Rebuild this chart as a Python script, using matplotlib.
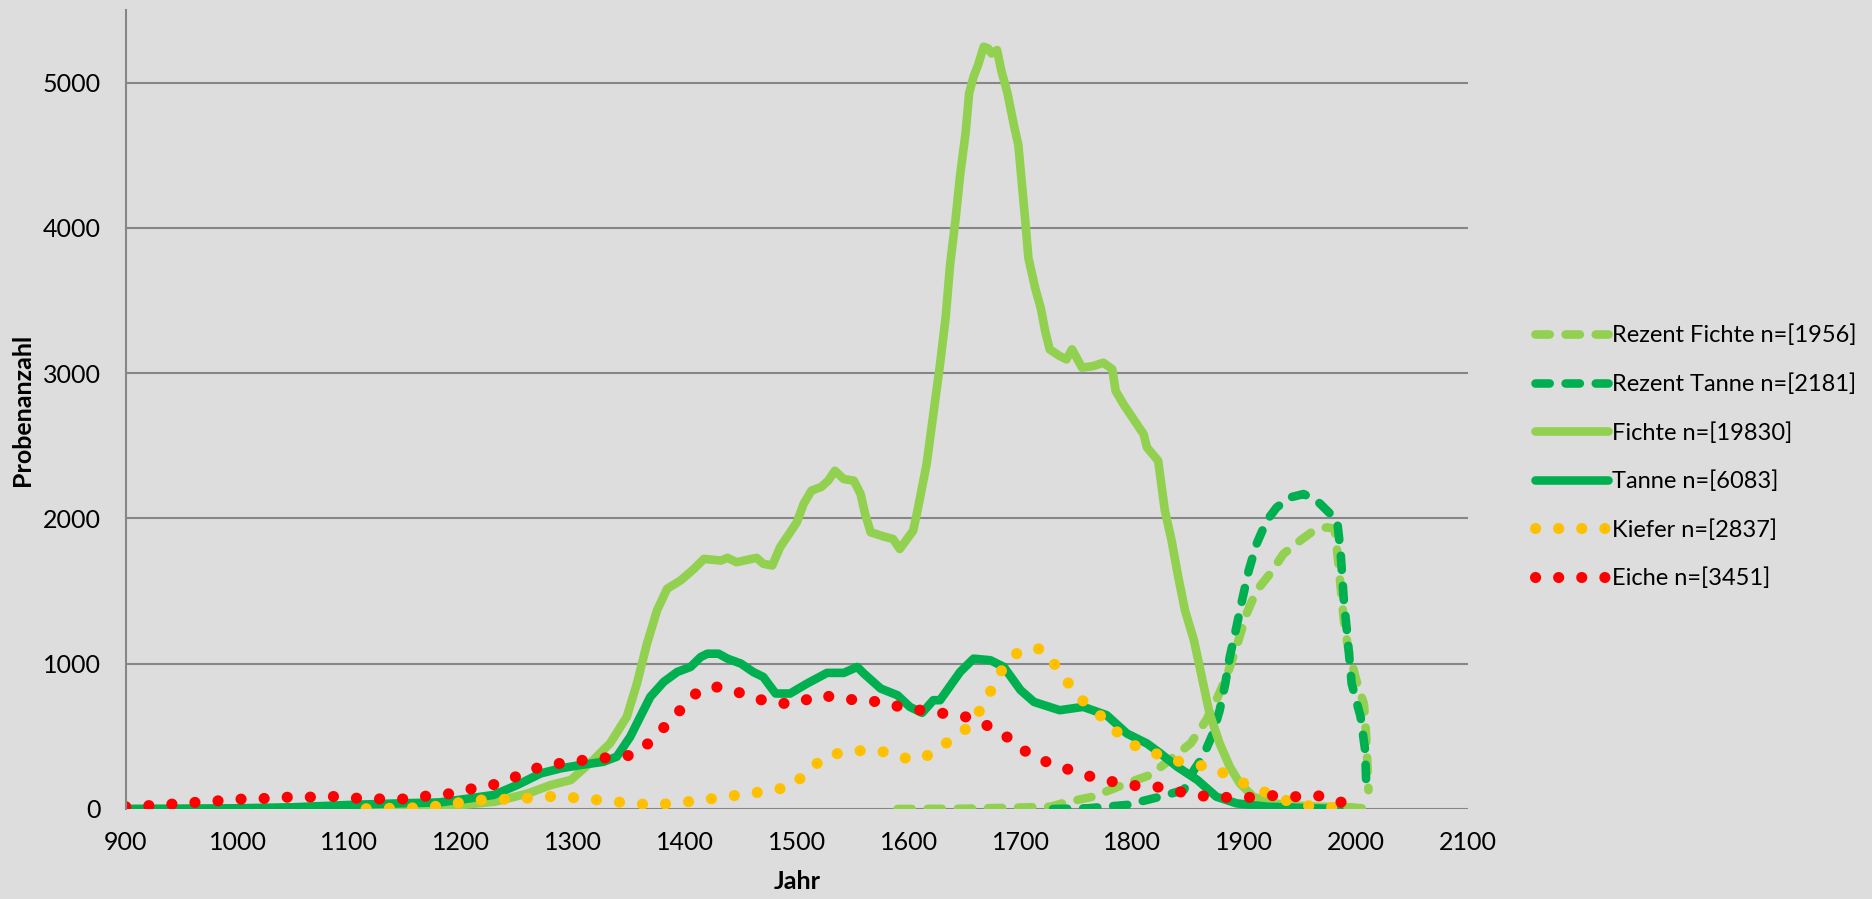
"""Probenanzahl je Jahr für die Holzarten (Fichte, Tanne, Kiefer, Eiche)."""

import matplotlib
matplotlib.use("Agg")
import matplotlib.pyplot as plt

plt.rcParams["font.family"] = ["Lato", "DejaVu Sans"]

# --- data ----------------------------------------------------------------
rezent_fichte_jahr = [1590, 1650, 1700, 1727, 1740, 1765, 1795, 1816, 1837, 1852, 1866,
                      1875, 1884, 1893, 1902, 1911, 1923, 1935, 1950, 1962, 1974, 1981,
                      1984, 1989, 1993, 2000, 2007, 2009, 2011]
rezent_fichte_n = [0, 2, 10, 16, 45, 85, 177, 234, 360, 451, 612,
                   749, 909, 1115, 1344, 1504, 1619, 1756, 1848, 1916, 1939, 1928,
                   1700, 1300, 1100, 890, 720, 500, 130]

rezent_tanne_jahr = [1729, 1760, 1795, 1825, 1846, 1855, 1863, 1872, 1878, 1883, 1887,
                     1893, 1898, 1904, 1911, 1920, 1929, 1941, 1953, 1965, 1974, 1983,
                     1986, 1989, 1992, 1996, 2004, 2008, 2009]
rezent_tanne_n = [0, 5, 28, 85, 131, 268, 360, 520, 680, 863, 1046,
                  1253, 1436, 1642, 1825, 1985, 2076, 2145, 2168, 2122, 2054, 1985,
                  1779, 1436, 1207, 863, 634, 406, 177]

fichte_jahr = [900, 1000, 1100, 1150, 1200, 1230, 1260, 1280, 1298, 1318, 1333, 1348,
               1357, 1366, 1375, 1384, 1396, 1408, 1417, 1432, 1438, 1446, 1464, 1470,
               1478, 1485, 1493, 1500, 1506, 1513, 1522, 1528, 1534, 1542, 1551, 1557,
               1561, 1566, 1578, 1586, 1592, 1604, 1608, 1616, 1622, 1628, 1633, 1637,
               1642, 1646, 1651, 1654, 1658, 1662, 1667, 1671, 1674, 1679, 1683, 1688,
               1694, 1698, 1701, 1704, 1707, 1713, 1718, 1722, 1726, 1735, 1741, 1746,
               1755, 1765, 1774, 1782, 1785, 1792, 1801, 1810, 1813, 1823, 1829, 1835,
               1841, 1847, 1855, 1862, 1869, 1878, 1887, 1896, 1908, 1920, 1935, 1965,
               1995, 2005]
fichte_n = [0, 2, 8, 15, 28, 50, 108, 165, 200, 337, 452, 635,
            863, 1138, 1367, 1516, 1573, 1653, 1722, 1710, 1729, 1699, 1729, 1688,
            1676, 1802, 1893, 1974, 2100, 2191, 2218, 2260, 2328, 2271, 2260, 2168,
            2031, 1905, 1875, 1859, 1790, 1916, 2060, 2374, 2718, 3061, 3382, 3748,
            4068, 4366, 4663, 4927, 5041, 5121, 5247, 5236, 5201, 5224, 5075, 4938,
            4709, 4572, 4320, 4068, 3794, 3588, 3450, 3290, 3164, 3118, 3095, 3164,
            3038, 3049, 3072, 3027, 2878, 2786, 2683, 2580, 2489, 2397, 2054, 1848,
            1596, 1367, 1161, 909, 657, 451, 291, 177, 85, 51, 28, 16,
            12, 5]

tanne_jahr = [900, 950, 1000, 1050, 1100, 1150, 1180, 1200, 1229, 1250, 1271, 1289,
              1306, 1327, 1339, 1351, 1360, 1369, 1381, 1393, 1405, 1414, 1420, 1430,
              1438, 1450, 1461, 1470, 1481, 1494, 1509, 1527, 1542, 1554, 1560, 1575,
              1590, 1601, 1612, 1622, 1628, 1646, 1658, 1673, 1685, 1700, 1712, 1735,
              1756, 1777, 1795, 1813, 1825, 1840, 1858, 1875, 1893, 1920, 1959, 1985]
tanne_n = [0, 2, 5, 12, 28, 40, 45, 65, 97, 165, 245, 280,
           302, 325, 360, 497, 635, 772, 875, 943, 978, 1046, 1069, 1069,
           1035, 1001, 943, 909, 795, 795, 863, 937, 937, 978, 932, 829,
           783, 703, 662, 749, 749, 944, 1035, 1024, 978, 818, 737, 680,
           703, 646, 520, 451, 383, 291, 200, 85, 39, 16, 5, 0]

kiefer_jahr = [1115, 1140, 1160, 1180, 1204, 1225, 1245, 1266, 1287, 1308, 1329, 1350,
               1371, 1392, 1413, 1434, 1455, 1476, 1496, 1511, 1527, 1546, 1565, 1584,
               1602, 1621, 1637, 1653, 1665, 1675, 1685, 1699, 1718, 1732, 1743, 1755,
               1769, 1783, 1797, 1814, 1834, 1853, 1872, 1890, 1908, 1928, 1946, 1967,
               1990]
kiefer_n = [2, 5, 8, 20, 51, 67, 67, 78, 90, 71, 58, 40,
            28, 40, 60, 81, 105, 125, 158, 270, 369, 395, 406, 387,
            337, 378, 474, 561, 694, 836, 982, 1088, 1104, 982, 863, 749,
            660, 555, 451, 403, 341, 309, 286, 211, 149, 85, 35, 12,
            10]

eiche_jahr = [900, 920, 942, 963, 984, 1005, 1026, 1047, 1069, 1090, 1111, 1132,
              1152, 1173, 1194, 1214, 1235, 1254, 1273, 1294, 1314, 1333, 1353, 1369,
              1383, 1397, 1412, 1429, 1447, 1466, 1484, 1500, 1518, 1537, 1556, 1575,
              1593, 1612, 1632, 1651, 1670, 1688, 1704, 1722, 1741, 1761, 1781, 1801,
              1821, 1842, 1862, 1883, 1904, 1925, 1946, 1967, 1987]
eiche_n = [16, 23, 34, 46, 57, 69, 73, 82, 82, 87, 71, 69,
           69, 94, 108, 149, 176, 240, 298, 320, 341, 355, 371, 462,
           577, 691, 813, 840, 805, 755, 727, 727, 780, 771, 743, 739,
           701, 678, 657, 634, 575, 495, 399, 328, 277, 227, 190, 162,
           154, 119, 90, 80, 80, 92, 85, 90, 46]

labels = ["Rezent Fichte n=[1956]", "Rezent Tanne n=[2181]", "Fichte n=[19830]",
          "Tanne n=[6083]", "Kiefer n=[2837]", "Eiche n=[3451]"]

HELLGRUEN = "#92D050"
GRUEN = "#00B050"
GELB = "#FFC000"
ROT = "#FF0000"
BG = "#DDDDDD"

DASH = (0, (1.65, 1.85))
DOT = (0, (0.01, 2.07))

fig = plt.figure(figsize=(18.72, 8.99), dpi=100, facecolor=BG)
ax = fig.add_axes([125.7 / 1872, 1 - 809 / 899, (1468 - 125.7) / 1872, 799 / 899])
ax.set_facecolor(BG)

common = dict(solid_capstyle="round", dash_capstyle="round", solid_joinstyle="round")
ax.plot(rezent_fichte_jahr, rezent_fichte_n, color=HELLGRUEN, lw=6.2, ls=DASH, label=labels[0], **common)
ax.plot(rezent_tanne_jahr, rezent_tanne_n, color=GRUEN, lw=6.2, ls=DASH, label=labels[1], **common)
ax.plot(fichte_jahr, fichte_n, color=HELLGRUEN, lw=6.2, label=labels[2], **common)
ax.plot(tanne_jahr, tanne_n, color=GRUEN, lw=6.2, label=labels[3], **common)
ax.plot(kiefer_jahr, kiefer_n, color=GELB, lw=8.0, ls=DOT, label=labels[4], **common)
ax.plot(eiche_jahr, eiche_n, color=ROT, lw=8.0, ls=DOT, label=labels[5], **common)

ax.set_xlim(900, 2100)
ax.set_ylim(0, 5500)
ax.set_xticks(range(900, 2101, 100))
ax.set_yticks(range(0, 5001, 1000))
ax.grid(axis="y", color="#868686", lw=1.5)
ax.set_axisbelow(True)
for side in ("top", "right", "bottom"):
    ax.spines[side].set_visible(False)
ax.spines["left"].set_color("#868686")
ax.spines["left"].set_linewidth(1.5)
ax.tick_params(length=0, labelsize=18, colors="black")
ax.tick_params(axis="y", pad=18)
ax.tick_params(axis="x", pad=16)

ax.set_xlabel("Jahr", fontsize=18, fontweight="bold")
ax.xaxis.set_label_coords(0.5, -0.076)
ax.set_ylabel("Probenanzahl", fontsize=18, fontweight="bold")
ax.yaxis.set_label_coords(-0.068, 0.5)

fig.legend(loc="center left", bbox_to_anchor=(1535 / 1872, 1 - 457 / 899), frameon=False,
           fontsize=17, handlelength=3.1, handletextpad=0.15, labelspacing=1.14,
           borderpad=0, borderaxespad=0)

fig.savefig("out.png", dpi=100, facecolor=BG)
